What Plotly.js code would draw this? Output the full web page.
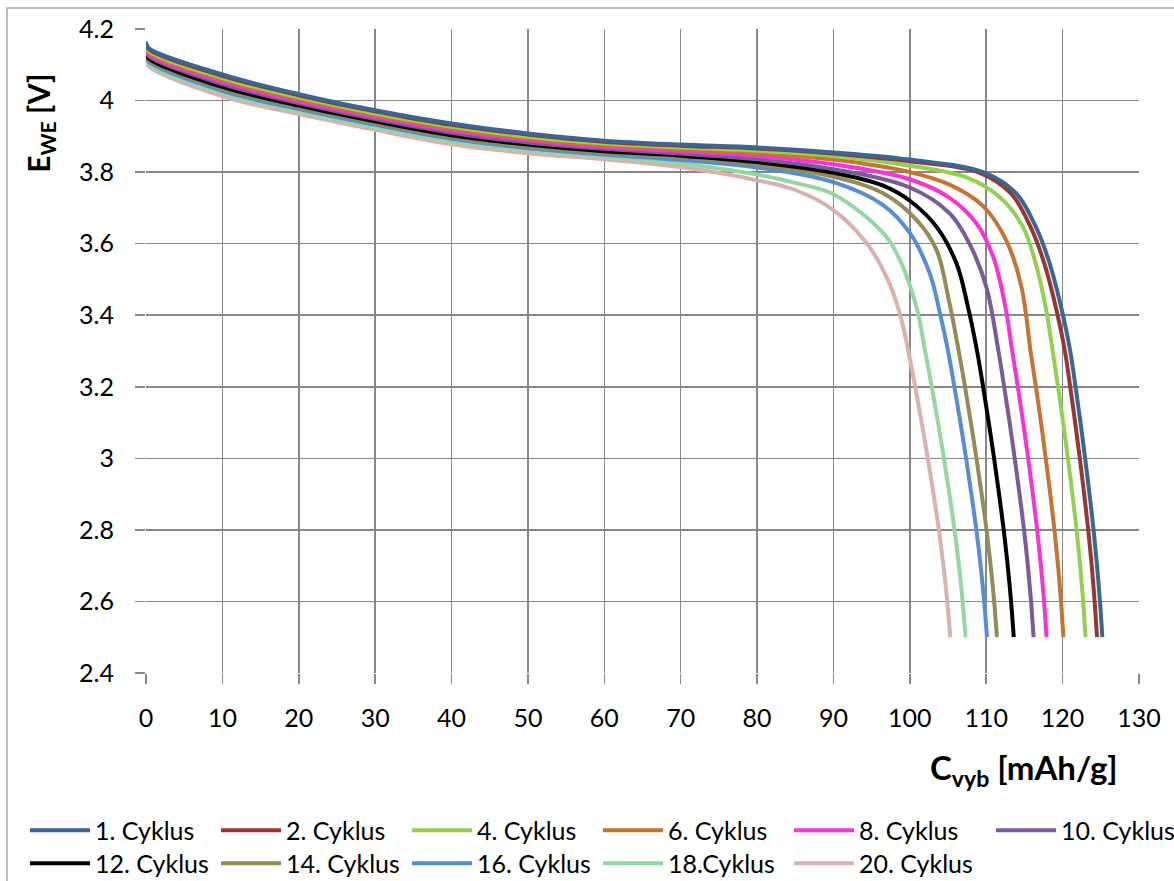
<!DOCTYPE html>
<html>
<head>
<meta charset="utf-8">
<script src="https://cdn.plot.ly/plotly-3.0.1.min.js"></script>
<style>html,body{margin:0;padding:0;background:#fff;}#chart{width:1174px;height:881px;}</style>
</head>
<body>
<div id="chart"></div>
<script>
// ---- data ----
var seriesNames = ["1. Cyklus","2. Cyklus","4. Cyklus","6. Cyklus","8. Cyklus","10. Cyklus",
                   "12. Cyklus","14. Cyklus","16. Cyklus","18.Cyklus","20. Cyklus"];
var seriesColors = ["#3b6592","#943735","#92d050","#c57432","#f533d6","#7a5b99",
                    "#000000","#958b55","#558ed5","#93d8a4","#dbb0b0"];
// which legend row/block each series is listed in
var seriesLegend = ["legend","legend","legend","legend","legend","legend3",
                    "legend2","legend2","legend2","legend2","legend2"];

var cap1  = [0,0.3,10,20,30,40,50,60,70,80,90,100,109.6,113.9,116.5,118.3,120.0,121.0,121.69,122.34,122.95,123.52,124.05,124.51,124.89,125.2];
var volt1 = [4.165,4.148,4.073,4.018,3.973,3.936,3.908,3.888,3.877,3.869,3.855,3.835,3.800,3.741,3.647,3.545,3.405,3.300,3.2,3.1,3.0,2.9,2.8,2.7,2.6,2.5];

var cap2  = [0,0.3,10,20,30,40,50,60,70,80,90,100,108.9,113.2,115.8,117.6,119.3,120.3,120.99,121.64,122.25,122.82,123.35,123.81,124.19,124.5];
var volt2 = [4.162,4.145,4.069,4.015,3.970,3.932,3.905,3.885,3.874,3.866,3.852,3.830,3.800,3.741,3.647,3.545,3.405,3.300,3.2,3.1,3.0,2.9,2.8,2.7,2.6,2.5];

var cap4  = [0,0.3,10,20,30,40,50,60,70,80,90,100,107.4,111.7,114.8,116.6,117.8,118.7,119.40,120.07,120.69,121.28,121.83,122.30,122.69,123.0];
var volt4 = [4.157,4.140,4.063,4.009,3.964,3.927,3.899,3.880,3.869,3.860,3.845,3.818,3.785,3.731,3.647,3.535,3.420,3.300,3.2,3.1,3.0,2.9,2.8,2.7,2.6,2.5];

var cap6  = [0,0.3,10,20,30,40,50,60,70,80,90,100,105.2,109.6,112.6,114.6,115.8,116.50,117.17,117.79,118.38,118.93,119.40,119.79,120.1];
var volt6 = [4.152,4.135,4.058,4.004,3.959,3.922,3.894,3.875,3.864,3.853,3.835,3.800,3.765,3.705,3.610,3.480,3.300,3.2,3.1,3.0,2.9,2.8,2.7,2.6,2.5];

var cap8  = [0,0.3,10,20,30,40,50,60,70,80,90,100,105.2,108.7,110.9,112.5,113.4,114.14,114.83,115.49,116.10,116.67,117.16,117.57,117.9];
var volt8 = [4.147,4.130,4.052,3.998,3.954,3.916,3.889,3.870,3.858,3.845,3.822,3.780,3.728,3.657,3.564,3.424,3.300,3.2,3.1,3.0,2.9,2.8,2.7,2.6,2.5];

var cap10  = [0,0.3,10,20,30,40,50,60,70,80,90,100,105.2,107.8,110.0,111.6,112.35,113.06,113.73,114.36,114.95,115.45,115.87,116.2];
var volt10 = [4.142,4.125,4.046,3.993,3.948,3.910,3.883,3.865,3.852,3.836,3.808,3.757,3.685,3.600,3.480,3.300,3.2,3.1,3.0,2.9,2.8,2.7,2.6,2.5];

var cap12  = [0,0.3,10,20,30,40,50,60,70,80,90,96.5,100,103.5,106.1,107.6,108.8,109.59,110.33,111.03,111.68,112.29,112.81,113.25,113.6];
var volt12 = [4.136,4.119,4.038,3.986,3.942,3.903,3.877,3.858,3.846,3.828,3.798,3.762,3.720,3.647,3.545,3.424,3.300,3.2,3.1,3.0,2.9,2.8,2.7,2.6,2.5];

var cap14  = [0,0.3,10,20,30,40,50,60,70,80,90,96.5,100.9,103.5,105.1,106.4,107.22,107.99,108.72,109.40,110.04,110.58,111.04,111.4];
var volt14 = [4.132,4.115,4.033,3.982,3.937,3.898,3.872,3.854,3.842,3.822,3.787,3.741,3.666,3.582,3.443,3.300,3.2,3.1,3.0,2.9,2.8,2.7,2.6,2.5];

var cap16  = [0,0.3,10,20,30,40,50,60,70,80,90,96.5,100,102.6,104.0,105.0,105.83,106.62,107.36,108.06,108.71,109.27,109.73,110.1];
var volt16 = [4.127,4.110,4.027,3.976,3.932,3.893,3.867,3.849,3.834,3.813,3.772,3.708,3.630,3.517,3.400,3.300,3.2,3.1,3.0,2.9,2.8,2.7,2.6,2.5];

var cap18  = [0,0.3,10,20,30,40,50,60,70,80,85,90,96.5,98.7,100.9,102.0,102.87,103.69,104.46,105.18,105.85,106.43,106.91,107.3];
var volt18 = [4.122,4.105,4.021,3.970,3.926,3.887,3.861,3.844,3.824,3.793,3.770,3.738,3.630,3.554,3.420,3.300,3.2,3.1,3.0,2.9,2.8,2.7,2.6,2.5];

var cap20  = [0,0.3,10,20,30,40,50,60,70,80,85,90,94.4,97.1,98.75,99.8,100.7,101.55,102.35,103.1,103.8,104.4,104.9,105.3];
var volt20 = [4.115,4.097,4.012,3.962,3.918,3.878,3.853,3.836,3.814,3.777,3.750,3.694,3.600,3.500,3.400,3.300,3.2,3.1,3.0,2.9,2.8,2.7,2.6,2.5];

var xTickVals = [0,10,20,30,40,50,60,70,80,90,100,110,120,130];
var yTickVals = [2.4,2.6,2.8,3,3.2,3.4,3.6,3.8,4,4.2];

var capList  = [cap1,cap2,cap4,cap6,cap8,cap10,cap12,cap14,cap16,cap18,cap20];
var voltList = [volt1,volt2,volt4,volt6,volt8,volt10,volt12,volt14,volt16,volt18,volt20];

// ---- build traces ----
var traces = [];
for (var i = 0; i < seriesNames.length; i++) {
  traces.push({
    type: 'scatter', mode: 'lines',
    name: seriesNames[i],
    legend: seriesLegend[i],
    x: capList[i], y: voltList[i],
    line: {color: seriesColors[i], width: 4, shape: 'spline', smoothing: 1.0}
  });
}
// draw the later cycles first so cycle 1 stays on top like the reference
traces.reverse();

var FONT = 'Lato, "Open Sans", sans-serif';
var gridCol = '#878787';

function legendRow(xc, yc) {
  return {
    orientation: 'h', traceorder: 'reversed',
    xref: 'container', yref: 'container',
    x: xc, y: yc, xanchor: 'left', yanchor: 'top',
    entrywidth: 116, entrywidthmode: 'pixels',
    font: {family: FONT, size: 25, color: '#000'},
    bgcolor: 'rgba(0,0,0,0)', borderwidth: 0,
    itemwidth: 60
  };
}

var layout = {
  width: 1174, height: 881,
  paper_bgcolor: '#ffffff', plot_bgcolor: '#ffffff',
  margin: {l: 146, r: 35, t: 29, b: 208, pad: 0},
  font: {family: FONT, size: 24, color: '#000000'},
  showlegend: true,
  xaxis: {
    range: [0, 130], tickmode: 'array', tickvals: xTickVals,
    showgrid: true, gridcolor: gridCol, gridwidth: 1.5,
    zeroline: false, showline: false,
    ticks: 'outside', ticklen: 10, tickwidth: 1.5, tickcolor: gridCol,
    ticklabelstandoff: 13,
    tickfont: {family: FONT, size: 25, color: '#000'}
  },
  yaxis: {
    range: [2.4, 4.2], tickmode: 'array', tickvals: yTickVals,
    showgrid: true, gridcolor: gridCol, gridwidth: 1.5,
    zeroline: false, showline: false,
    ticks: 'outside', ticklen: 10, tickwidth: 1.5, tickcolor: gridCol,
    ticklabelstandoff: 16,
    tickfont: {family: FONT, size: 25, color: '#000'}
  },
  legend:  legendRow(0.0213, 0.0834),
  legend3: legendRow(0.8441, 0.0834),
  legend2: legendRow(0.0213, 0.0460),
  annotations: [
    {
      xref: 'paper', yref: 'paper', x: -0.107, y: 0.854,
      text: '<b>E<sub>WE</sub> [V]</b>', textangle: -90, showarrow: false,
      xanchor: 'center', yanchor: 'middle',
      font: {family: FONT, size: 30, color: '#000'}
    },
    {
      xref: 'paper', yref: 'paper', x: 0.884, y: -0.15,
      text: '<b>C<sub>vyb</sub> [mAh/g]</b>', showarrow: false,
      xanchor: 'center', yanchor: 'middle',
      font: {family: FONT, size: 33, color: '#000'}
    }
  ],
  shapes: [
    {
      type: 'rect', xref: 'paper', yref: 'paper',
      x0: -0.14, x1: 1.2, y0: -0.5, y1: 1.0326,
      line: {color: '#a6a6a6', width: 1.5}, fillcolor: 'rgba(0,0,0,0)', layer: 'below'
    }
  ]
};

Plotly.newPlot('chart', traces, layout, {staticPlot: true, displayModeBar: false});
</script>
</body>
</html>
